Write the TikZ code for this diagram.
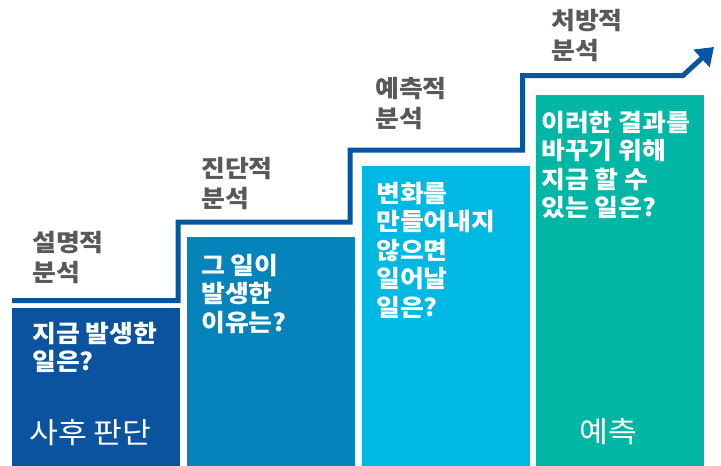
\documentclass[tikz,border=0pt]{standalone}
\usepackage{fontspec}
\newfontfamily\kr[FakeStretch=1.08]{Noto Sans CJK KR}
\usetikzlibrary{arrows.meta}
\definecolor{stepline}{HTML}{0656A1}
\definecolor{cA}{HTML}{0B539E}
\definecolor{cB}{HTML}{0583BB}
\definecolor{cC}{HTML}{00B9E3}
\definecolor{cD}{HTML}{00B6A5}
\definecolor{labgray}{HTML}{595959}
\tikzset{
  bar/.style={draw=none, inner sep=0pt, outer sep=0pt, anchor=north west, minimum width=168pt},
  steplabel/.style={anchor=north west, inner sep=0pt, align=left, text=labgray,
    font=\kr\bfseries\fontsize{24}{30}\selectfont},
  question/.style={anchor=north west, inner sep=0pt, align=left, text=white,
    font=\kr\bfseries\fontsize{24}{28.5}\selectfont},
  bigword/.style={anchor=north west, inner sep=0pt, text=white,
    font=\kr\fontsize{29}{32}\selectfont},
}
\begin{document}
\begin{tikzpicture}[x=1pt,y=-1pt]
\useasboundingbox (0,0) rectangle (721,466);
% bars
\node[bar, fill=cA, minimum height=158pt] (b1) at (12,308) {};
\node[bar, fill=cB, minimum height=229pt] (b2) at (187,237) {};
\node[bar, fill=cC, minimum height=300pt] (b3) at (362,166) {};
\node[bar, fill=cD, minimum height=371pt] (b4) at (536,95) {};
% step line
\coordinate (s0) at (12,300.5);
\coordinate (s1) at (178,300.5);
\coordinate (s2) at (178,222);
\coordinate (s3) at (350,222);
\coordinate (s4) at (350,150);
\coordinate (s5) at (522.5,150);
\coordinate (s6) at (522.5,75.5);
\coordinate (s7) at (683,75.5);
\coordinate (s8) at (714,47);
\draw[stepline, line width=5pt, -{Triangle[length=17pt,width=23pt]}]
  (s0) -- (s1) -- (s2) -- (s3) -- (s4) -- (s5) -- (s6) -- (s7) -- (s8);
% labels
\node[steplabel] (l1) at (32,231) {설명적\\분석};
\node[steplabel] (l2) at (201,157) {진단적\\분석};
\node[steplabel] (l3) at (375,77) {예측적\\분석};
\node[steplabel] (l4) at (551,9) {처방적\\분석};
% questions
\node[question] (q1) at (32,322) {지금 발생한\\일은?};
\node[question] (q2) at (201,254) {그 일이\\발생한\\이유는?};
\node[question] (q3) at (376,182) {변화를\\만들어내지\\않으면\\일어날\\일은?};
\node[question] (q4) at (541,111) {이러한 결과를\\바꾸기 위해\\지금 할 수\\있는 일은?};
% big words
\node[bigword] (w1) at (29,419) {사후 판단};
\node[bigword] (w2) at (579,418) {예측};
\end{tikzpicture}
\end{document}
